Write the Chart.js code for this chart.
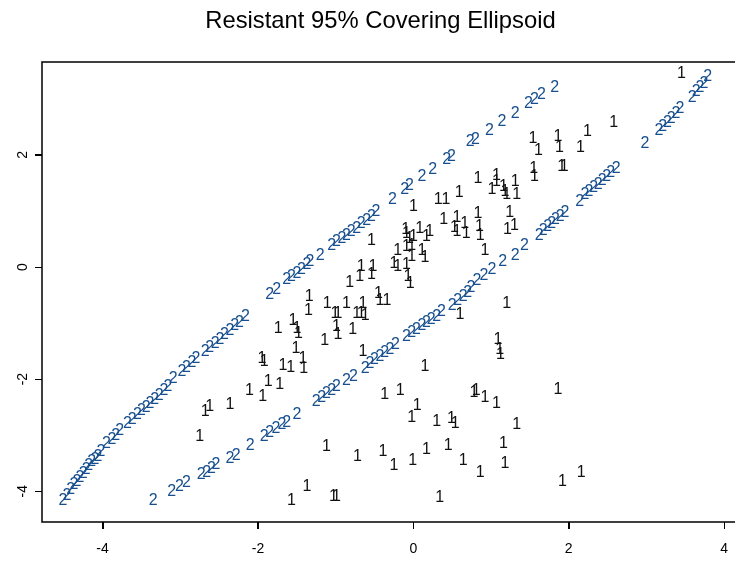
<!DOCTYPE html>
<html>
<head>
<meta charset="utf-8">
<script src="https://cdn.jsdelivr.net/npm/chart.js@4"></script>
<style>
  html, body { margin: 0; padding: 0; background: #fff; overflow: hidden; }
  canvas { display: block; }
</style>
</head>
<body>
<canvas id="chart" width="735" height="562"></canvas>
<script>
// Axis ticks
const xTicks = [-4, -2, 0, 2, 4];
const yTicks = [-4, -2, 0, 2];

// Group 1: the observations (drawn as "1")
const groupOne = [
  [3.45,3.45],[1.54,2.29],[1.61,2.07],[1.86,2.32],[1.88,2.13],[2.24,2.42],[2.15,2.14],[2.58,2.57],
  [1.55,1.76],[1.56,1.61],[1.91,1.80],[1.94,1.80],[0.83,1.57],[1.07,1.64],[1.07,1.52],[1.01,1.38],
  [1.16,1.43],[1.18,1.34],[1.20,1.29],[1.31,1.52],[1.33,1.29],[0.59,1.32],[0.32,1.20],[0.42,1.20],
  [0.00,1.08],[0.83,0.95],[0.85,0.72],[0.86,0.56],[0.92,0.30],[0.39,0.84],[0.56,0.89],[0.53,0.71],
  [0.56,0.63],[0.66,0.78],[0.68,0.59],[1.24,0.97],[1.21,0.66],[1.30,0.74],[-0.10,0.67],[-0.09,0.59],
  [-0.05,0.51],[0.00,0.54],[0.08,0.69],[0.17,0.55],[0.21,0.63],[-0.20,0.30],[-0.09,0.36],[-0.02,0.39],
  [-0.02,0.18],[0.11,0.30],[0.15,0.16],[-0.25,0.07],[-0.20,0.01],[-0.09,0.04],[-0.07,-0.17],[-0.04,-0.29],
  [-0.54,0.48],[-0.67,0.01],[-0.69,-0.17],[-0.52,0.01],[-0.54,-0.14],[-0.82,-0.28],[-1.34,-0.53],[-1.35,-0.77],
  [-1.11,-0.65],[-1.01,-0.83],[-0.97,-0.83],[-0.86,-0.65],[-0.73,-0.83],[-0.67,-0.83],[-0.62,-0.86],[-0.65,-0.66],
  [-0.45,-0.48],[-0.43,-0.59],[-0.34,-0.59],[-1.74,-1.09],[-1.55,-0.96],[-1.50,-1.09],[-1.48,-1.18],[-1.14,-1.32],
  [-0.99,-1.07],[-0.97,-1.20],[-0.78,-1.11],[-1.51,-1.45],[-0.65,-1.51],[-1.95,-1.63],[-1.92,-1.69],[-1.68,-1.75],
  [-1.58,-1.79],[-1.42,-1.64],[-1.41,-1.82],[-1.87,-2.04],[-1.72,-2.09],[-2.11,-2.20],[-1.94,-2.32],[-2.68,-2.58],
  [-2.62,-2.49],[-2.36,-2.45],[-2.75,-3.02],[0.60,-0.84],[1.20,-0.66],[0.15,-1.78],[1.09,-1.30],[1.11,-1.48],
  [1.12,-1.57],[-0.37,-2.28],[-0.17,-2.20],[0.05,-2.48],[-0.02,-2.68],[0.30,-2.76],[0.49,-2.71],[0.54,-2.79],
  [0.78,-2.24],[0.81,-2.20],[0.92,-2.33],[1.07,-2.43],[1.86,-2.19],[1.33,-2.82],[-1.12,-3.20],[-0.72,-3.38],
  [-0.39,-3.30],[-0.25,-3.55],[-0.01,-3.46],[0.17,-3.26],[0.45,-3.18],[0.64,-3.45],[0.86,-3.66],[1.16,-3.15],
  [1.18,-3.51],[-1.37,-3.91],[-1.57,-4.16],[-1.03,-4.09],[-0.99,-4.10],[0.34,-4.11],[2.16,-3.67],[1.92,-3.82]
];

// Group 2: the covering ellipse outline (drawn as "2"), upper side
const ellipseUpper = [
  [-4.51,-4.16],[-4.46,-4.07],[-4.41,-3.98],[-4.37,-3.89],[-4.33,-3.82],[-4.29,-3.75],[-4.25,-3.68],[-4.21,-3.61],
  [-4.18,-3.55],[-4.14,-3.48],[-4.10,-3.43],[-4.06,-3.38],[-4.02,-3.30],[-3.95,-3.15],[-3.88,-3.08],[-3.83,-3.01],
  [-3.78,-2.92],[-3.68,-2.79],[-3.62,-2.72],[-3.55,-2.64],[-3.50,-2.57],[-3.44,-2.51],[-3.39,-2.43],[-3.33,-2.36],
  [-3.27,-2.29],[-3.21,-2.21],[-3.16,-2.13],[-3.09,-1.99],[-2.98,-1.87],[-2.92,-1.79],[-2.85,-1.71],[-2.80,-1.63],
  [-2.68,-1.51],[-2.62,-1.43],[-2.55,-1.36],[-2.49,-1.29],[-2.43,-1.21],[-2.36,-1.14],[-2.30,-1.05],[-2.24,-0.99],
  [-2.16,-0.88],[-1.85,-0.50],[-1.76,-0.41],[-1.63,-0.23],[-1.57,-0.17],[-1.50,-0.11],[-1.44,-0.05],[-1.37,0.04],
  [-1.33,0.09],[-1.20,0.21],[-1.05,0.39],[-0.99,0.45],[-0.92,0.51],[-0.86,0.57],[-0.80,0.63],[-0.73,0.69],
  [-0.67,0.77],[-0.60,0.83],[-0.54,0.90],[-0.48,0.99],[-0.27,1.20],[-0.11,1.38],[-0.05,1.45],[0.11,1.61],
  [0.25,1.74],[0.43,1.91],[0.49,1.97],[0.73,2.24],[0.80,2.28],[0.98,2.43],[1.14,2.59],[1.31,2.74],
  [1.48,2.91],[1.56,2.99],[1.65,3.07],[1.82,3.21]
];

// Group 2: right tip of the ellipse
const ellipseTip = [
  [2.98,2.21],[3.16,2.43],[3.21,2.51],[3.27,2.58],[3.32,2.65],[3.38,2.73],[3.43,2.82],
  [3.59,3.03],[3.64,3.13],[3.69,3.21],[3.74,3.28],[3.79,3.39]
];

// Group 2: lower side of the ellipse
const ellipseLower = [
  [2.61,1.76],[2.54,1.68],[2.49,1.61],[2.43,1.55],[2.38,1.48],[2.32,1.42],[2.26,1.34],[2.21,1.29],
  [2.14,1.17],[1.95,0.98],[1.89,0.90],[1.83,0.84],[1.78,0.78],[1.73,0.72],[1.67,0.65],[1.62,0.57],
  [1.43,0.39],[1.31,0.21],[1.15,0.09],[1.01,-0.04],[0.91,-0.16],[0.82,-0.25],[0.74,-0.36],[0.70,-0.45],
  [0.64,-0.52],[0.57,-0.59],[0.50,-0.68],[0.36,-0.80],[0.30,-0.88],[0.23,-0.93],[0.17,-0.99],[0.11,-1.05],
  [0.04,-1.11],[-0.02,-1.17],[-0.09,-1.24],[-0.23,-1.39],[-0.30,-1.47],[-0.37,-1.53],[-0.43,-1.59],[-0.50,-1.66],
  [-0.56,-1.73],[-0.62,-1.81],[-0.77,-1.96],[-0.86,-2.02],[-0.99,-2.14],[-1.05,-2.20],[-1.12,-2.26],[-1.18,-2.33],
  [-1.25,-2.41],[-1.50,-2.64],[-1.63,-2.78],[-1.69,-2.82],[-1.77,-2.88],[-1.85,-2.95],[-1.92,-3.02],[-2.10,-3.18],
  [-2.28,-3.36],[-2.36,-3.42],[-2.54,-3.52],[-2.60,-3.59],[-2.66,-3.66],[-2.73,-3.71],[-2.92,-3.85],[-3.01,-3.92],
  [-3.11,-4.01],[-3.35,-4.17]
];

const groupTwo = ellipseUpper.concat(ellipseTip, ellipseLower);

const FONT = "'Liberation Sans', Arial, Helvetica, sans-serif";

// draws each point as its group number, at the position the scales give it
const textMarks = {
  id: 'textMarks',
  afterDatasetsDraw(chart) {
    const ctx = chart.ctx;
    const a = chart.chartArea;
    ctx.save();
    ctx.beginPath();
    ctx.rect(a.left, a.top, a.right - a.left, a.bottom - a.top);
    ctx.clip();
    ctx.font = '16px ' + FONT;
    ctx.textAlign = 'center';
    ctx.textBaseline = 'middle';
    chart.data.datasets.forEach((ds, i) => {
      ctx.fillStyle = ds.markColor;
      chart.getDatasetMeta(i).data.forEach(pt => ctx.fillText(ds.mark, pt.x, pt.y));
    });
    ctx.restore();
  }
};

// plot box (open on the right, where it runs past the canvas) and outward tick marks
const frame = {
  id: 'frame',
  afterDraw(chart) {
    const a = chart.chartArea;
    const ctx = chart.ctx;
    const xs = chart.scales.x, ys = chart.scales.y;
    ctx.save();
    ctx.strokeStyle = '#000';
    ctx.lineWidth = 1.5;
    ctx.beginPath();
    ctx.moveTo(a.right + 5, a.top);
    ctx.lineTo(a.left, a.top);
    ctx.lineTo(a.left, a.bottom);
    ctx.lineTo(a.right + 5, a.bottom);
    ctx.stroke();
    ctx.lineWidth = 1;
    ctx.beginPath();
    xs.ticks.forEach(t => {
      const px = Math.round(xs.getPixelForValue(t.value)) + 0.5;
      ctx.moveTo(px, a.bottom);
      ctx.lineTo(px, a.bottom + 7);
    });
    ys.ticks.forEach(t => {
      const py = Math.round(ys.getPixelForValue(t.value)) + 0.5;
      ctx.moveTo(a.left, py);
      ctx.lineTo(a.left - 7, py);
    });
    ctx.stroke();
    ctx.restore();
  }
};

const toXY = arr => arr.map(([x, y]) => ({ x, y }));

new Chart(document.getElementById('chart'), {
  type: 'scatter',
  data: {
    datasets: [
      { label: '1', mark: '1', markColor: '#111111', data: toXY(groupOne), pointRadius: 0 },
      { label: '2', mark: '2', markColor: '#174f8e', data: toXY(groupTwo), pointRadius: 0 }
    ]
  },
  options: {
    responsive: false,
    animation: false,
    events: [],
    layout: { padding: { left: 0, right: -26, top: 0, bottom: 0 } },
    scales: {
      x: {
        type: 'linear',
        min: -4.78,
        max: 4.14,
        afterBuildTicks: s => { s.ticks = xTicks.map(v => ({ value: v })); },
        afterFit: s => { s.height = 40; s.paddingLeft = 0; s.paddingRight = 0; },
        grid: { drawOnChartArea: false, drawTicks: true, tickLength: 7, color: '#000', lineWidth: 1 },
        border: { display: false },
        ticks: { color: '#000', font: { size: 14, family: FONT }, padding: 12, maxRotation: 0 }
      },
      y: {
        type: 'linear',
        min: -4.55,
        max: 3.66,
        afterBuildTicks: s => { s.ticks = yTicks.map(v => ({ value: v })); },
        afterFit: s => { s.width = 42; s.paddingTop = 0; s.paddingBottom = 0; },
        grid: { drawOnChartArea: false, drawTicks: true, tickLength: 7, color: '#000', lineWidth: 1 },
        border: { display: false },
        ticks: { color: '#000', font: { size: 14, family: FONT }, padding: 6, minRotation: 90, maxRotation: 90, crossAlign: 'center' }
      }
    },
    plugins: {
      legend: { display: false },
      tooltip: { enabled: false },
      title: {
        display: true,
        text: 'Resistant 95% Covering Ellipsoid',
        color: '#000',
        font: { size: 23.8, weight: 'normal', family: FONT },
        padding: { top: 7, bottom: 26.4 }
      }
    }
  },
  plugins: [textMarks, frame]
});
</script>
</body>
</html>
